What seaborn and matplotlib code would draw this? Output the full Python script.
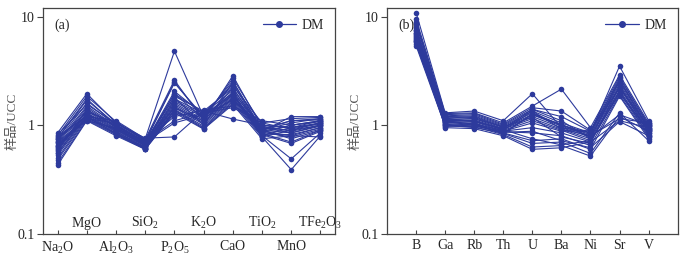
import numpy as np
import pandas as pd
import matplotlib
matplotlib.use("Agg")
import matplotlib.pyplot as plt
from matplotlib.lines import Line2D
from matplotlib.ticker import FixedLocator, FixedFormatter, NullLocator
import seaborn as sns

sns.set_style("white")
plt.rcParams['font.family'] = ['Liberation Serif', 'Noto Sans CJK SC', 'DejaVu Sans']
plt.rcParams['mathtext.fontset'] = 'custom'
plt.rcParams['mathtext.rm'] = 'Liberation Serif'

# major oxides (a)
oxides = ['Na_2O', 'MgO', 'Al_2O_3', 'SiO_2', 'P_2O_5', 'K_2O', 'CaO', 'TiO_2', 'MnO', 'TFe_2O_3']
oxide_vals = [
    [0.85, 1.95, 1.05, 0.74, 2.60, 1.10, 2.85, 0.95, 0.90, 1.05],
    [0.80, 1.85, 1.08, 0.72, 2.50, 1.15, 2.70, 1.00, 0.95, 1.10],
    [0.75, 1.70, 1.02, 0.70, 2.45, 1.20, 2.55, 0.90, 1.05, 1.15],
    [0.72, 1.60, 1.00, 0.69, 2.05, 1.25, 2.40, 0.88, 1.20, 1.20],
    [0.70, 1.50, 0.98, 0.68, 1.95, 1.30, 2.30, 1.05, 1.15, 1.18],
    [0.68, 1.45, 0.96, 0.67, 1.85, 1.35, 2.20, 0.92, 1.10, 1.12],
    [0.65, 1.40, 0.95, 0.66, 1.75, 1.28, 2.10, 0.85, 1.00, 1.08],
    [0.62, 1.35, 0.93, 0.65, 1.70, 1.22, 2.00, 0.80, 0.95, 1.02],
    [0.60, 1.30, 0.92, 0.65, 1.65, 1.18, 1.95, 0.78, 0.90, 1.00],
    [0.58, 1.28, 0.90, 0.64, 1.60, 1.12, 1.90, 0.90, 0.85, 0.98],
    [0.56, 1.25, 0.88, 0.63, 1.55, 1.08, 1.85, 0.88, 0.80, 0.95],
    [0.55, 1.22, 0.87, 0.62, 1.50, 1.05, 1.80, 0.86, 0.78, 0.92],
    [0.53, 1.20, 0.85, 0.62, 1.45, 1.02, 1.75, 0.84, 0.70, 0.90],
    [0.50, 1.18, 0.84, 0.61, 1.40, 0.98, 1.70, 0.82, 0.68, 0.88],
    [0.48, 1.15, 0.83, 0.61, 1.38, 0.95, 1.65, 0.80, 0.49, 0.85],
    [0.45, 1.12, 0.82, 0.60, 1.35, 0.93, 1.60, 0.78, 0.39, 0.80],
    [0.43, 1.10, 0.80, 0.60, 1.30, 0.92, 1.55, 0.75, 0.80, 0.78],
    [0.78, 1.20, 1.10, 0.75, 4.80, 1.20, 2.00, 0.95, 0.85, 1.00],
    [0.66, 1.15, 1.05, 0.76, 0.78, 1.35, 1.14, 1.00, 0.95, 1.05],
    [0.74, 1.32, 1.06, 0.73, 1.20, 1.38, 1.50, 1.10, 1.00, 1.10],
    [0.64, 1.25, 1.00, 0.71, 1.10, 1.30, 1.45, 1.05, 0.92, 1.05],
    [0.59, 1.38, 0.97, 0.70, 1.05, 1.25, 1.70, 0.98, 0.88, 1.00],
    [0.82, 1.55, 1.04, 0.72, 1.80, 1.00, 2.50, 0.92, 1.10, 1.15],
    [0.76, 1.75, 1.00, 0.70, 1.45, 1.10, 2.20, 0.88, 1.00, 1.10],
    [0.70, 1.10, 0.94, 0.68, 1.95, 1.15, 1.75, 0.90, 0.75, 0.90],
    [0.63, 1.16, 0.91, 0.66, 1.28, 1.20, 1.90, 0.83, 0.82, 0.95],
]

# trace elements (b)
elements = ['B', 'Ga', 'Rb', 'Th', 'U', 'Ba', 'Ni', 'Sr', 'V']
element_vals = [
    [10.9, 1.30, 1.35, 1.10, 1.95, 0.95, 0.85, 3.50, 1.10],
    [9.5, 1.28, 1.30, 1.05, 1.50, 2.15, 0.95, 2.90, 1.05],
    [9.0, 1.25, 1.28, 1.02, 1.45, 1.35, 0.90, 2.80, 1.00],
    [8.5, 1.22, 1.25, 1.00, 1.40, 1.20, 0.88, 2.60, 0.98],
    [8.0, 1.20, 1.22, 0.98, 1.35, 1.05, 0.85, 2.50, 0.95],
    [7.6, 1.18, 1.20, 0.96, 1.30, 1.00, 0.82, 2.40, 0.92],
    [7.3, 1.15, 1.18, 0.95, 1.25, 0.98, 0.80, 2.30, 0.90],
    [7.0, 1.12, 1.15, 0.93, 1.20, 0.95, 0.78, 2.20, 0.88],
    [6.8, 1.10, 1.12, 0.92, 1.15, 0.92, 0.75, 2.10, 0.85],
    [6.5, 1.08, 1.10, 0.90, 1.10, 0.90, 0.72, 2.05, 0.82],
    [6.2, 1.06, 1.08, 0.88, 0.95, 0.85, 0.70, 2.00, 0.80],
    [6.0, 1.05, 1.05, 0.87, 0.85, 0.80, 0.65, 1.90, 0.78],
    [5.8, 1.03, 1.02, 0.85, 0.72, 0.75, 0.60, 1.85, 0.75],
    [5.6, 1.00, 1.00, 0.84, 0.68, 0.70, 0.55, 1.30, 0.72],
    [5.4, 0.98, 0.97, 0.82, 0.63, 0.65, 0.52, 1.20, 0.88],
    [7.8, 0.95, 0.93, 0.80, 0.60, 0.62, 0.70, 1.10, 0.95],
    [6.6, 1.00, 0.95, 0.85, 1.25, 1.02, 0.78, 1.25, 1.00],
    [6.3, 1.10, 1.02, 0.90, 1.35, 0.92, 0.80, 1.15, 1.05],
    [7.1, 1.15, 1.08, 0.93, 1.40, 1.10, 0.75, 2.60, 0.92],
    [8.8, 1.20, 1.15, 0.97, 1.18, 0.78, 0.68, 2.30, 0.85],
    [5.9, 1.08, 1.00, 0.86, 0.88, 0.72, 0.62, 1.08, 0.80],
    [6.9, 1.02, 0.98, 0.88, 1.05, 0.88, 0.90, 2.20, 0.98],
    [7.5, 1.12, 1.10, 0.91, 0.75, 0.66, 0.72, 1.95, 0.90],
    [6.1, 0.97, 1.05, 0.83, 1.28, 1.00, 0.85, 2.70, 1.02],
]

BLUE = '#2d3a9c'
EDGE = '#444444'
FS = 10


def to_long(rows):
    recs = []
    for s, row in enumerate(rows):
        for i, v in enumerate(row):
            recs.append({'sample': s, 'pos': i, 'val': v})
    return pd.DataFrame(recs)


def style_axis(ax, label_x):
    ax.set_yscale('log')
    ax.set_ylim(0.1, 12)
    ax.yaxis.set_major_locator(FixedLocator([0.1, 1, 10]))
    ax.yaxis.set_major_formatter(FixedFormatter(['0.1', '1', '10']))
    ax.yaxis.set_minor_locator(NullLocator())
    ax.tick_params(axis='y', direction='out', length=4, width=0.8, color=EDGE,
                   labelsize=FS, pad=2, left=True)
    ax.tick_params(axis='x', direction='in', length=3, width=0.8, color=EDGE,
                   labelsize=FS, bottom=True)
    for sp in ax.spines.values():
        sp.set_color(EDGE)
        sp.set_linewidth(0.9)
    ax.set_xlabel('')
    ax.set_ylabel('样品/UCC', fontsize=FS - 0.5, color='#555555')
    ax.yaxis.set_label_coords(label_x, 0.5)
    handle = Line2D([], [], color=BLUE, lw=0.9, marker='o', markersize=4)
    ax.legend([handle], ['DM'], loc='upper right', frameon=False, fontsize=FS,
              handlelength=2.4, borderaxespad=0.4, handletextpad=0.4)


fig = plt.figure(figsize=(6.88, 2.57), dpi=100)
ax1 = fig.add_axes([0.0625, 0.09, 0.4245, 0.879])
ax2 = fig.add_axes([0.5625, 0.09, 0.4225, 0.879])

df1 = to_long(oxide_vals)
sns.lineplot(data=df1, x='pos', y='val', units='sample', estimator=None,
             color=BLUE, lw=0.8, marker='o', markersize=4, markeredgewidth=0,
             legend=False, ax=ax1)
style_axis(ax1, -0.085)
ax1.set_xlim(-0.5, len(oxides) - 0.5)
even = list(range(0, len(oxides), 2))
odd = list(range(1, len(oxides), 2))
ax1.set_xticks(even)
ax1.set_xticklabels([r'$\mathregular{%s}$' % oxides[i] for i in even])
ax1.set_xticks(odd, minor=True)
ax1.set_xticklabels([r'$\mathregular{%s}$' % oxides[i] for i in odd], minor=True)
ax1.tick_params(axis='x', which='major', pad=4)
ax1.tick_params(axis='x', which='minor', direction='in', length=3, width=0.8,
                color=EDGE, labelsize=FS, pad=-13.5, bottom=True)
ax1.text(0.04, 0.955, '(a)', transform=ax1.transAxes, fontsize=FS, va='top')

df2 = to_long(element_vals)
sns.lineplot(data=df2, x='pos', y='val', units='sample', estimator=None,
             color=BLUE, lw=0.8, marker='o', markersize=4, markeredgewidth=0,
             legend=False, ax=ax2)
style_axis(ax2, -0.087)
ax2.set_xlim(-1, len(elements))
ax2.set_xticks(range(len(elements)))
ax2.set_xticklabels(elements)
ax2.tick_params(axis='x', which='major', pad=4)
ax2.text(0.04, 0.955, '(b)', transform=ax2.transAxes, fontsize=FS, va='top')

fig.savefig('out.png', dpi=100)
